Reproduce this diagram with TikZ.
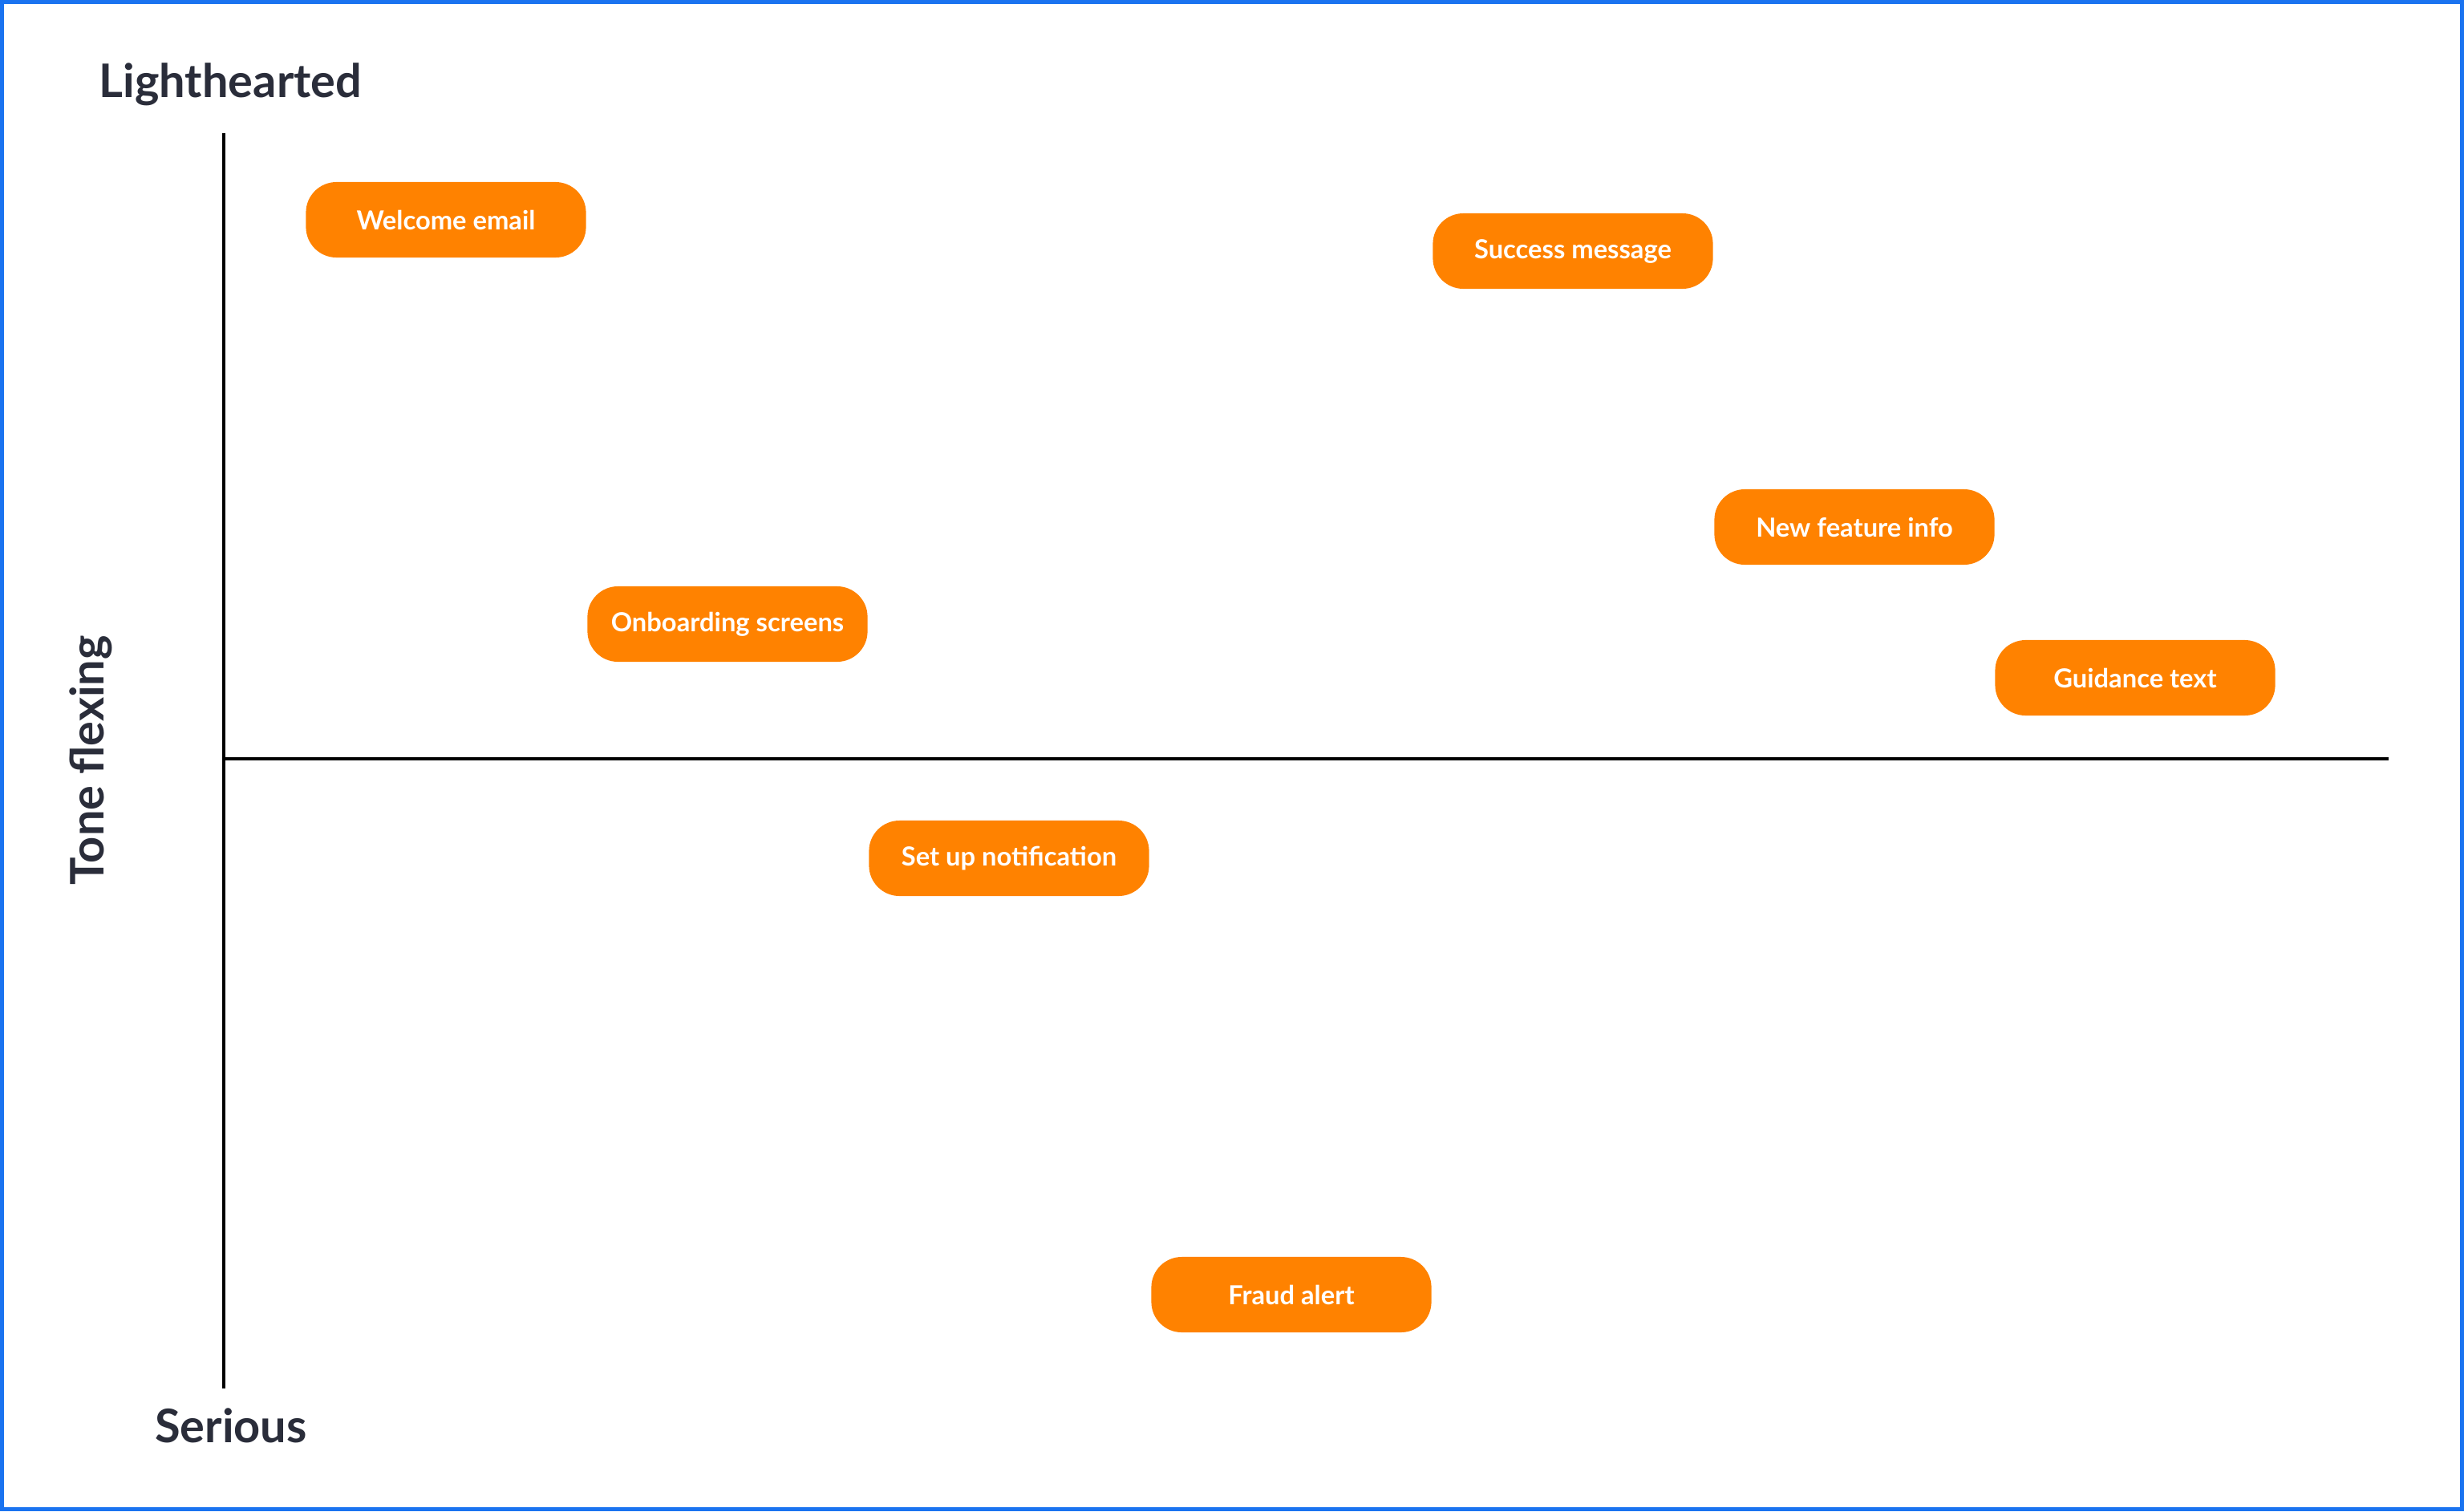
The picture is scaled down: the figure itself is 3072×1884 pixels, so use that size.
\documentclass[tikz,border=0pt]{standalone}
\usepackage{fontspec}
\setmainfont{Lato}
\definecolor{frame}{HTML}{1A73F0}
\definecolor{ink}{HTML}{2A2D3A}
\definecolor{tag}{HTML}{FF8200}
\begin{document}
\begin{tikzpicture}[x=0.01cm,y=-0.01cm,
  tagbox/.style={fill=tag, rounded corners=0.38cm, minimum width=3.49cm, minimum height=0.94cm,
    text=white, font=\fontsize{9.3}{11}\selectfont\bfseries, inner sep=0pt},
  axislabel/.style={text=ink, font=\fontsize{16.4}{19}\selectfont\bfseries, inner sep=0pt},
  axisline/.style={line width=0.04cm, black}]
\useasboundingbox (0,0) rectangle (3072,1884);
\draw[frame, line width=0.05cm] (2.5,2.5) rectangle (3069.5,1881.5);
% axes
\coordinate (vtop) at (279,166);
\coordinate (vbot) at (279,1731);
\coordinate (hl) at (279,946);
\coordinate (hr) at (2978,946);
\draw[axisline] (vtop) -- (vbot);
\draw[axisline] (hl) -- (hr);
% labels
\node[axislabel, anchor=base west] (light) at (123,121) {Lighthearted};
\node[axislabel, anchor=base] (serious) at (288,1798) {Serious};
\node[axislabel, anchor=base, rotate=90] (tone) at (129,948) {Tone flexing};
% tags
\node[tagbox] (welcome) at (556,274) {Welcome email};
\node[tagbox] (success) at (1961,313) {Success message};
\node[tagbox] (newfeat) at (2312,657) {New feature info};
\node[tagbox] (onboard) at (907,778) {Onboarding screens};
\node[tagbox] (guide) at (2662,845) {Guidance text};
\node[tagbox] (setup) at (1258,1070) {Set up notification};
\node[tagbox] (fraud) at (1610,1614) {Fraud alert};
\end{tikzpicture}
\end{document}
